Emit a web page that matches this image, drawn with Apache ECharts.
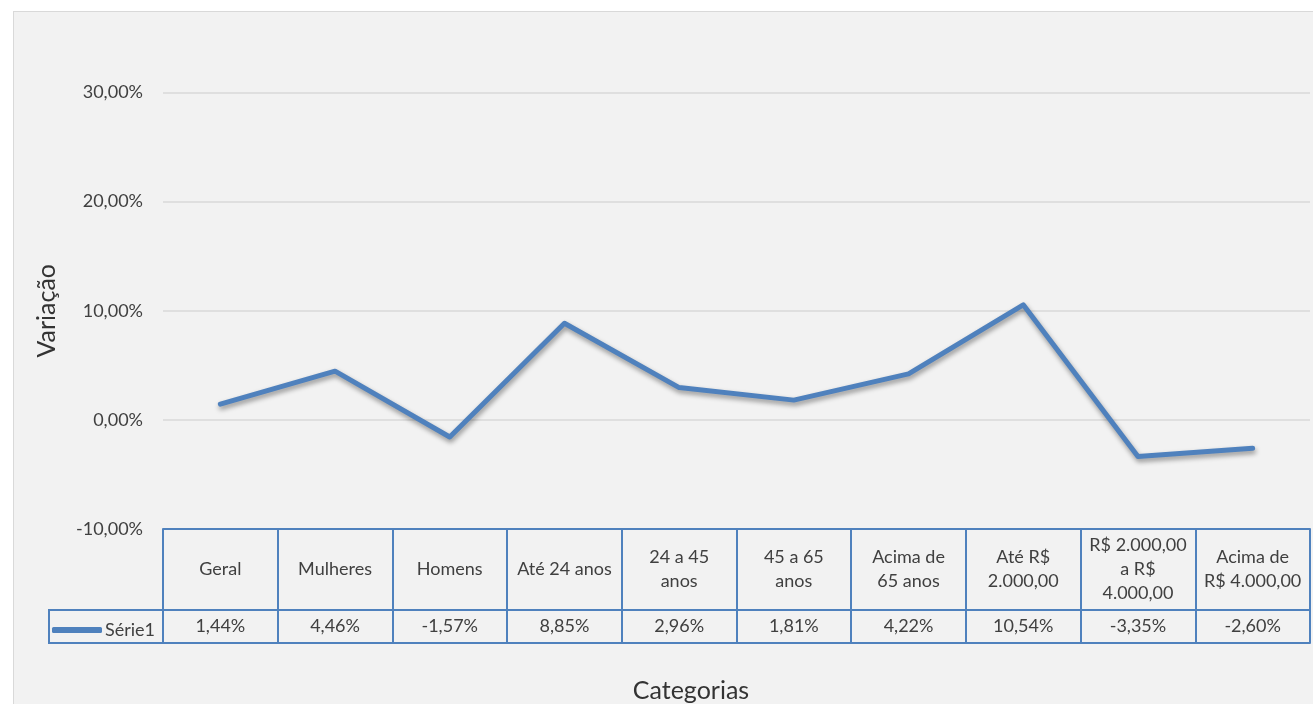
<!DOCTYPE html>
<html>
<head>
<meta charset="utf-8">
<script src="https://cdn.jsdelivr.net/npm/echarts@6/dist/echarts.min.js"></script>
<style>
html,body{margin:0;padding:0;background:#fff;width:1313px;height:704px;overflow:hidden;}
#bg{position:absolute;left:13px;top:11px;width:1330px;height:720px;background:#f2f2f2;border:1px solid #d9d9d9;box-sizing:border-box;}
#chart{position:absolute;left:0;top:0;width:1313px;height:704px;}
</style>
</head>
<body>
<div id="bg"></div>
<div id="chart"></div>
<script>
const categories = ['Geral', 'Mulheres', 'Homens', 'Até 24 anos', '24 a 45\nanos', '45 a 65\nanos', 'Acima de\n65 anos', 'Até R$\n2.000,00', 'R$ 2.000,00\na R$\n4.000,00', 'Acima de\nR$ 4.000,00'];
const serie1 = [1.44, 4.46, -1.57, 8.85, 2.96, 1.81, 4.22, 10.54, -3.35, -2.60];
const yTicks = { min: -10, max: 30, interval: 10 };
const seriesName = 'Série1';
const xTitle = 'Categorias';
const yTitle = 'Variação';

const fmt = v => v.toFixed(2).replace('.', ',') + '%';
const FONT = 'Lato';
const BLUE = '#4f81bd';
const TXT = '#404040';

const chart = echarts.init(document.getElementById('chart'), null, { renderer: 'canvas' });
chart.setOption({
  backgroundColor: 'transparent',
  animation: false,
  textStyle: { fontFamily: FONT },
  title: {
    text: xTitle, left: 686, top: 673, textAlign: 'center',
    textStyle: { fontFamily: FONT, fontSize: 25, fontWeight: 'normal', color: '#333' }
  },
  grid: { left: 163, right: 3, top: 92.5, bottom: 175, containLabel: false },
  legend: {
    left: 47, top: 616, icon: 'roundRect', itemWidth: 50, itemHeight: 6, itemGap: 4,
    textStyle: { fontFamily: FONT, fontSize: 18, color: TXT, padding: [0, 0, 0, -2] },
    data: [seriesName]
  },
  xAxis: [
    {
      type: 'category', data: categories, boundaryGap: true, position: 'bottom', offset: 0,
      axisLine: { show: true, onZero: false, lineStyle: { color: BLUE, width: 2 } },
      axisTick: { show: true, alignWithLabel: false, interval: 0, length: 114, lineStyle: { color: BLUE, width: 2 } },
      axisLabel: { interval: 0, margin: 40, verticalAlign: 'middle', align: 'center', lineHeight: 24, fontFamily: FONT, fontSize: 18, color: TXT }
    },
    {
      type: 'category', data: serie1, boundaryGap: true, position: 'bottom', offset: 81,
      axisLine: { show: true, onZero: false, lineStyle: { color: BLUE, width: 2 } },
      axisTick: { show: false },
      axisLabel: { interval: 0, margin: 16.5, verticalAlign: 'middle', formatter: v => fmt(Number(v)), fontFamily: FONT, fontSize: 18, color: TXT }
    },
    {
      type: 'category', data: categories, boundaryGap: true, position: 'bottom', offset: 114,
      axisLine: { show: true, onZero: false, lineStyle: { color: BLUE, width: 2 } },
      axisTick: { show: false }, axisLabel: { show: false }
    }
  ],
  yAxis: {
    type: 'value', min: yTicks.min, max: yTicks.max, interval: yTicks.interval,
    name: yTitle, nameLocation: 'middle', nameGap: 104, nameRotate: 90,
    nameTextStyle: { fontFamily: FONT, fontSize: 25, color: '#333' },
    axisLine: { show: false }, axisTick: { show: false },
    axisLabel: { margin: 20, formatter: v => fmt(v), fontFamily: FONT, fontSize: 18, color: TXT },
    splitLine: { show: true, lineStyle: { color: '#d9d9d9', width: 1.5 } }
  },
  graphic: [
    { type: 'line', shape: { x1: 49, y1: 609, x2: 49, y2: 644 }, style: { stroke: BLUE, lineWidth: 2 } },
    { type: 'line', shape: { x1: 48, y1: 610, x2: 163, y2: 610 }, style: { stroke: BLUE, lineWidth: 2 } },
    { type: 'line', shape: { x1: 48, y1: 643, x2: 163, y2: 643 }, style: { stroke: BLUE, lineWidth: 2 } }
  ],
  series: [{
    name: seriesName, type: 'line', data: serie1, xAxisIndex: 0,
    symbol: 'none', smooth: false, z: 5,
    itemStyle: { color: BLUE },
    lineStyle: { color: BLUE, width: 5, cap: 'round', join: 'round',
      shadowColor: 'rgba(0,0,0,0.4)', shadowBlur: 5, shadowOffsetX: 1, shadowOffsetY: 3 }
  }]
});
</script>
</body>
</html>
